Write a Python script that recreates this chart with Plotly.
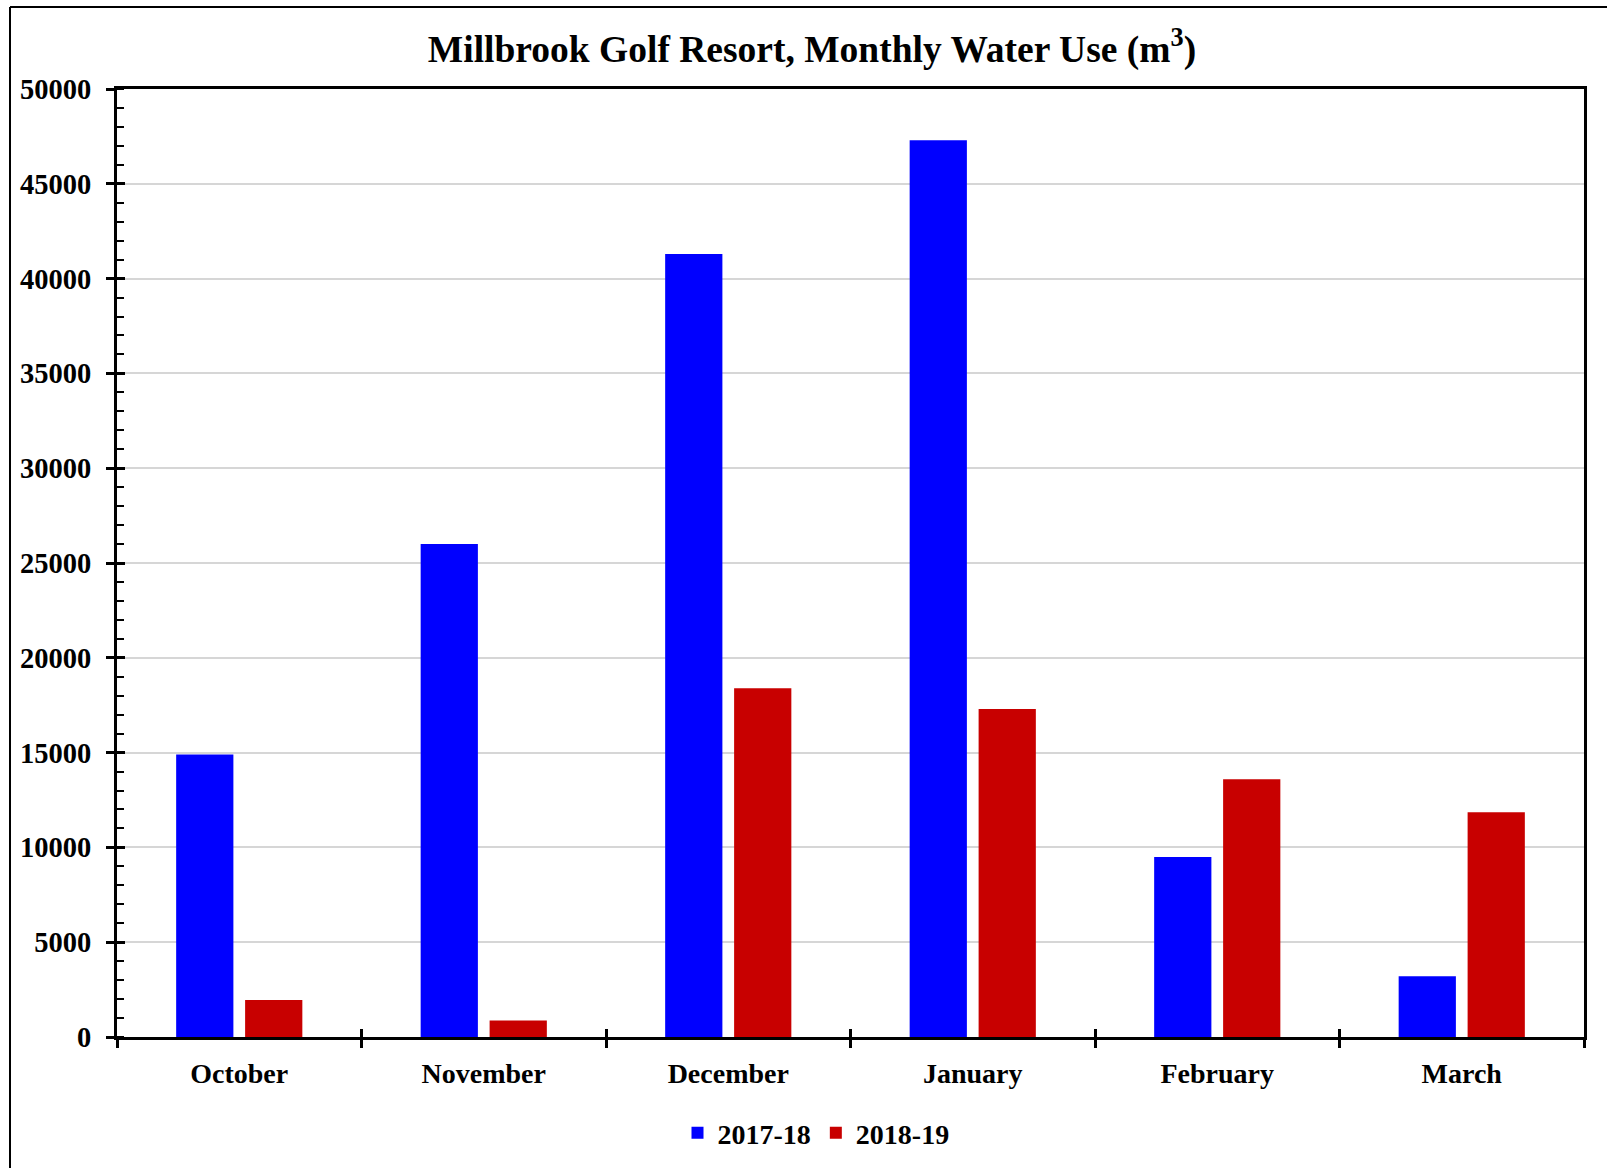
import plotly.graph_objects as go

months = ["October", "November", "December", "January", "February", "March"]
season_a_name = "2017-18"
season_b_name = "2018-19"
season_a = [14900, 26000, 41300, 47300, 9500, 3200]
season_b = [1950, 870, 18400, 17300, 13600, 11850]
y_ticks = [0, 5000, 10000, 15000, 20000, 25000, 30000, 35000, 40000, 45000, 50000]

FONT = "Liberation Serif, Times New Roman, serif"
W, H = 1607, 1168
L, R, T, B = 117, 23, 89, 131

fig = go.Figure()
fig.add_trace(go.Bar(x=months, y=season_a, name=season_a_name, marker_color="#0000FF",
                     marker_line_width=0))
fig.add_trace(go.Bar(x=months, y=season_b, name=season_b_name, marker_color="#C80000",
                     marker_line_width=0))
# invisible trace to carry the overlay axes (inside tick marks)
fig.add_trace(go.Scatter(x=months, y=[None] * len(months), xaxis="x2", yaxis="y2",
                         showlegend=False, hoverinfo="skip", mode="markers"))

pw = W - L - R
ph = H - T - B

fig.update_layout(
    width=W, height=H,
    margin=dict(l=L, r=R, t=T, b=B, pad=0),
    paper_bgcolor="white", plot_bgcolor="white",
    barmode="group", bargap=0.436, bargroupgap=0.17,
    title=dict(text="Millbrook Golf Resort, Monthly Water Use (m<sup>3</sup>)",
               x=812 / W, xref="container", xanchor="center",
               y=1 - 49 / H, yref="container", yanchor="middle",
               font=dict(family=FONT, size=37.5, color="black", weight="bold")),
    font=dict(family=FONT, color="black"),
    legend=dict(orientation="h", xref="container", yref="container",
                x=816 / W, xanchor="center", y=1 - 1133 / H, yanchor="middle",
                font=dict(family=FONT, size=28, color="black", weight="bold"),
                itemwidth=30, bgcolor="rgba(0,0,0,0)"),
    xaxis=dict(type="category", categoryarray=months, range=[-0.5, 5.5],
               showline=True, linecolor="black", linewidth=3, mirror=True,
               ticks="outside", tickson="boundaries", ticklen=8, tickwidth=3,
               tickcolor="black", showgrid=False, ticklabelstandoff=9,
               tickfont=dict(family=FONT, size=28, color="black", weight="bold")),
    yaxis=dict(range=[0, 50000], tickvals=y_ticks, ticktext=[str(v) for v in y_ticks],
               showline=True, linecolor="black", linewidth=3, mirror=True,
               ticks="outside", ticklen=8, tickwidth=3, tickcolor="black",
               showgrid=True, gridcolor="#d6d6d6", gridwidth=1.5, zeroline=False,
               ticklabelstandoff=9,
               minor=dict(ticks="inside", dtick=1000, tick0=0, ticklen=7, tickwidth=2,
                          tickcolor="black", showgrid=False),
               tickfont=dict(family=FONT, size=28.5, color="black", weight="bold")),
    xaxis2=dict(type="category", categoryarray=months, range=[-0.5, 5.5],
                overlaying="x", anchor="y2", side="bottom", showline=False,
                ticks="inside", tickson="boundaries", ticklen=8, tickwidth=3,
                tickcolor="black", showticklabels=False, showgrid=False),
    yaxis2=dict(range=[0, 50000], tickvals=y_ticks, overlaying="y", anchor="x2",
                side="left", showline=False, ticks="inside", ticklen=8, tickwidth=3,
                tickcolor="black", showticklabels=False, showgrid=False,
                zeroline=False),
    showlegend=True,
)

# outer frame lines (left and top) of the original chart image
x_left = (10 - L) / pw
y_top = 1 + (T - 7) / ph
y_bottom = -(B + 5) / ph
x_right = 1 + (R + 5) / pw
fig.add_shape(type="line", xref="paper", yref="paper", x0=x_left, x1=x_left,
              y0=y_bottom, y1=y_top, line=dict(color="black", width=2))
fig.add_shape(type="line", xref="paper", yref="paper", x0=x_left, x1=x_right,
              y0=y_top, y1=y_top, line=dict(color="black", width=2))

fig.write_html("out.html")
